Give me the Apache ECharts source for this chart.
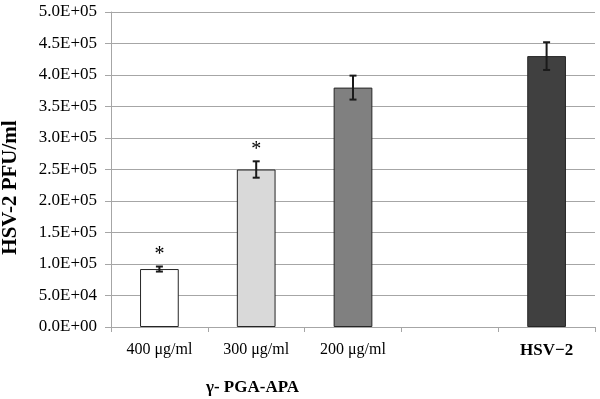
<!DOCTYPE html>
<html>
<head>
<meta charset="utf-8">
<script src="https://cdn.jsdelivr.net/npm/echarts@6/dist/echarts.min.js"></script>
<style>
  html, body { margin: 0; padding: 0; background: #fff; }
  #main { width: 600px; height: 399px; }
</style>
</head>
<body>
<div id="main"></div>
<script>
// categories (one empty slot between 200 and HSV-2)
var categories = ['400 μg/ml', '300 μg/ml', '200 μg/ml', '', 'HSV\u22122'];
// PFU/ml values
var values = [92000, 250000, 380000, null, 430000];
// +/- error
var errors = [4000, 13000, 19000, null, 22000];
// significance marks
var marks = ['*', '*', '', '', ''];
var barColors = ['#ffffff', '#d9d9d9', '#808080', '#ffffff', '#404040'];

var serif = '"Liberation Serif", "DejaVu Serif", serif';

function sci(v) {
    // 5.0E+05 style
    var s = v.toExponential(1).split('e');
    var exp = parseInt(s[1], 10);
    var sign = exp < 0 ? '-' : '+';
    exp = Math.abs(exp);
    return s[0] + 'E' + sign + (exp < 10 ? '0' + exp : exp);
}

var errData = [];
for (var i = 0; i < values.length; i++) {
    if (values[i] != null) errData.push([i, values[i], errors[i], marks[i]]);
}

var myChart = echarts.init(document.getElementById('main'));
var option = {
    animation: false,
    backgroundColor: '#fff',
    grid: { left: 111, right: 5, top: 12, bottom: 72, containLabel: false, outerBoundsMode: 'none' },
    xAxis: {
        type: 'category',
        data: categories,
        name: 'γ- PGA-APA',
        nameLocation: 'start',
        nameGap: 0,
        nameTextStyle: {
            fontFamily: serif, fontSize: 17, fontWeight: 'bold', color: '#000',
            padding: [52, 0, 0, 95], align: 'left',
            verticalAlign: 'top'
        },
        axisLine: { lineStyle: { color: '#a6a6a6', width: 1 } },
        axisTick: { show: true, length: 5, lineStyle: { color: '#a6a6a6' } },
        axisLabel: {
            interval: 0,
            hideOverlap: false,
            margin: 15,
            fontFamily: serif, fontSize: 16, color: '#000',
            formatter: function (v) { return v.indexOf('HSV') === 0 ? '{b|' + v + '}' : v; },
            rich: { b: { fontFamily: serif, fontSize: 17, fontWeight: 'bold', color: '#000' } }
        }
    },
    yAxis: {
        type: 'value',
        min: 0,
        max: 500000,
        interval: 50000,
        name: 'HSV-2 PFU/ml',
        nameLocation: 'middle',
        nameGap: 90,
        nameRotate: 90,
        nameTextStyle: {
            fontFamily: serif, fontSize: 21, fontWeight: 'bold', color: '#000',
            padding: [0, 36, 0, 0]
        },
        axisLine: { show: true, lineStyle: { color: '#a6a6a6' } },
        axisTick: { show: true, length: 6, lineStyle: { color: '#a6a6a6' } },
        axisLabel: {
            margin: 14,
            fontFamily: serif, fontSize: 17, color: '#000',
            formatter: function (v) { return sci(v); }
        },
        splitLine: { lineStyle: { color: '#a6a6a6', width: 1 } }
    },
    series: [
        {
            type: 'bar',
            barWidth: '40%',
            data: values.map(function (v, i) {
                return { value: v, itemStyle: { color: barColors[i] } };
            }),
            itemStyle: { borderColor: '#262626', borderWidth: 1 }
        },
        {
            type: 'custom',
            data: errData,
            z: 10,
            renderItem: function (params, api) {
                var x = api.value(0);
                var v = api.value(1);
                var e = api.value(2);
                var mark = errData[params.dataIndex][3];
                var hi = api.coord([x, v + e]);
                var lo = api.coord([x, v - e]);
                var cap = 3.5;
                var st = { stroke: '#1a1a1a', lineWidth: 2 };
                var children = [
                    { type: 'line', shape: { x1: hi[0], y1: hi[1], x2: lo[0], y2: lo[1] }, style: st },
                    { type: 'line', shape: { x1: hi[0] - cap, y1: hi[1], x2: hi[0] + cap, y2: hi[1] }, style: st },
                    { type: 'line', shape: { x1: lo[0] - cap, y1: lo[1], x2: lo[0] + cap, y2: lo[1] }, style: st }
                ];
                if (mark) {
                    children.push({
                        type: 'text',
                        style: {
                            x: hi[0], y: hi[1] - 2, text: mark,
                            fill: '#000', font: '20px ' + serif,
                            align: 'center', verticalAlign: 'bottom'
                        }
                    });
                }
                return { type: 'group', children: children };
            }
        }
    ]
};
myChart.setOption(option);
</script>
</body>
</html>
